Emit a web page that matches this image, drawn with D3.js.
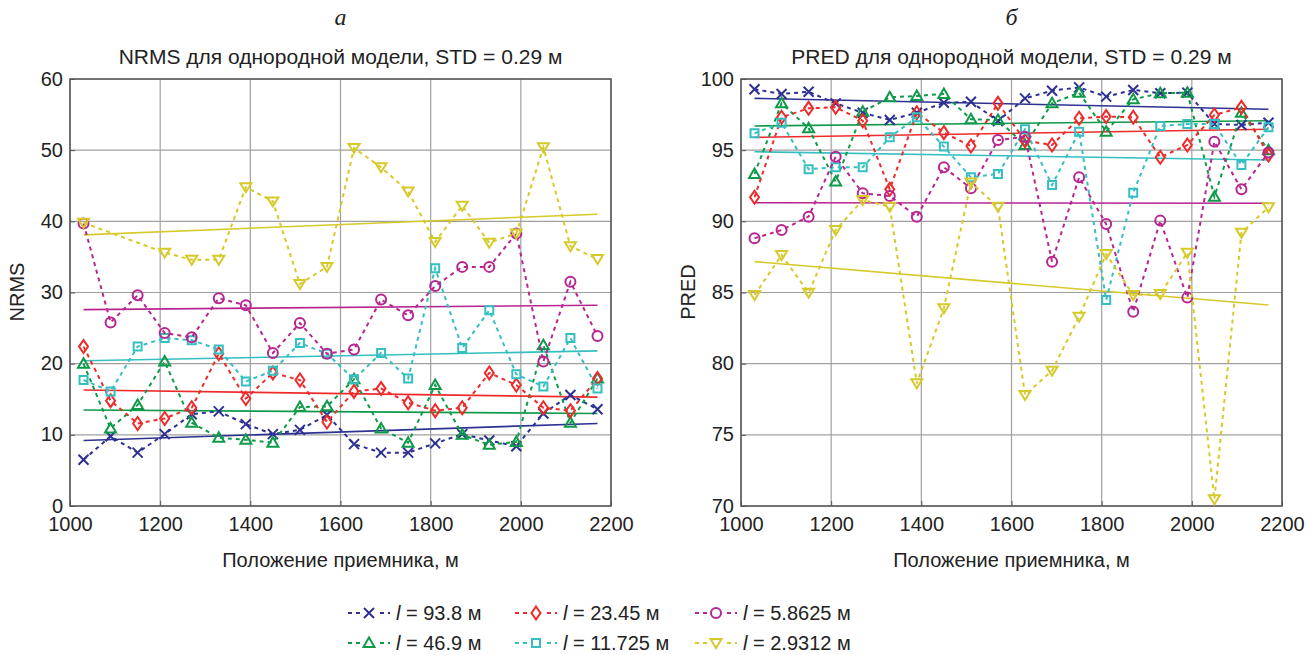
<!DOCTYPE html>
<html><head><meta charset="utf-8">
<script src="https://cdn.jsdelivr.net/npm/d3@7"></script>
<style>body{margin:0;background:#fff} svg{display:block}</style>
</head><body>
<svg id="c" width="1308" height="655"></svg>
<script>
// ---- data ----
const positions = [1030,1090,1150,1210,1270,1330,1390,1450,1510,1570,1630,1690,1750,1810,1870,1930,1990,2050,2110,2170];
const xTicks = [1000,1200,1400,1600,1800,2000,2200];
const nrmsTicks = [0,10,20,30,40,50,60];
const predTicks = [70,75,80,85,90,95,100];
const seriesLabels = ["93.8", "46.9", "23.45", "11.725", "5.8625", "2.9312"];

// NRMS (panel а)
const nrms_l93_8   = [6.5,9.8,7.5,10.1,12.9,13.3,11.5,10.1,10.7,12.8,8.7,7.5,7.5,8.8,10.1,9.2,8.4,13.0,15.6,13.6];
const nrms_l46_9   = [20.0,10.9,14.2,20.3,11.7,9.6,9.3,8.9,13.9,14.0,17.8,10.9,8.9,17.0,10.0,8.6,9.0,22.6,11.7,17.9];
const nrms_l23_45  = [22.4,14.8,11.6,12.3,13.8,21.4,15.1,18.7,17.7,11.8,16.1,16.5,14.5,13.4,13.8,18.7,17.0,13.8,13.4,17.9];
const nrms_l11_725 = [17.7,16.1,22.4,23.6,23.3,22.0,17.5,19.0,22.9,21.4,17.8,21.5,17.9,33.4,22.2,27.5,18.5,16.8,23.6,16.5];
const nrms_l5_8625 = [39.7,25.8,29.6,24.3,23.7,29.2,28.2,21.5,25.7,21.4,22.0,29.0,26.8,30.9,33.6,33.6,38.3,20.3,31.5,23.9];
const nrms_l2_9312 = [39.8,null,null,35.6,34.6,34.6,44.8,42.8,31.2,33.6,50.3,47.6,44.2,37.1,42.2,37.0,38.3,50.4,36.5,34.7];
// trend lines (value at first and last position)
const nrmsTrendStart = [9.2,13.5,16.3,20.4,27.6,38.1];
const nrmsTrendEnd   = [11.6,13.0,15.3,21.8,28.2,41.0];

// PRED (panel б)
const pred_l93_8   = [99.28,98.95,99.1,98.29,97.63,97.12,97.63,98.33,98.40,97.05,98.64,99.18,99.41,98.76,99.23,99.0,99.04,96.84,96.77,96.93];
const pred_l46_9   = [93.33,98.29,96.54,92.79,97.70,98.71,98.81,98.95,97.17,97.12,95.36,98.29,99.04,96.30,98.57,99.0,99.04,91.73,97.63,95.0];
const pred_l23_45  = [91.69,97.31,97.94,98.01,97.07,92.25,97.63,96.23,95.29,98.29,95.67,95.36,97.24,97.36,97.31,94.50,95.36,97.47,98.01,94.66];
const pred_l11_725 = [96.18,96.93,93.66,93.80,93.80,95.9,97.31,95.25,93.09,93.33,96.47,92.55,96.30,84.47,92.01,96.70,96.84,96.84,93.96,96.61];
const pred_l5_8625 = [88.81,89.39,90.33,94.54,91.97,91.78,90.33,93.80,92.32,95.71,95.95,87.16,93.09,89.81,83.65,90.05,84.64,95.60,92.25,94.83];
const pred_l2_9312 = [84.82,87.63,84.99,89.39,91.5,91.03,78.62,83.89,92.72,91.03,77.80,79.51,83.30,87.70,84.82,84.89,87.80,70.47,89.20,90.99];
const predTrendStart = [98.64,96.70,95.9,94.89,91.31,87.17];
const predTrendEnd   = [97.87,97.07,96.47,94.31,91.27,84.12];

// ---- styles ----
const colors  = ["#2e3192","#0f9a4a","#ee2b2b","#35bfc1","#b72690","#d6c92a"];
const markers = ["x","tri","diamond","square","circle","tridown"];
const FONT = "'Liberation Sans Narrow','Liberation Sans',Arial,sans-serif";

const svg = d3.select("#c");

function markerPath(type){
  switch(type){
    case "x": return "M-5,-5L5,5M-5,5L5,-5";
    case "tri": return "M0,-5.5L5.5,4L-5.5,4Z";
    case "tridown": return "M0,5L-5.5,-4L5.5,-4Z";
    case "diamond": return "M0,-6.5L4.5,0L0,6.5L-4.5,0Z";
    case "square": return "M-4,-4L4,-4L4,4L-4,4Z";
    case "circle": return "M5,0A5,5 0 1,1 -5,0A5,5 0 1,1 5,0Z";
  }
}

function drawPanel(opt){
  const x = d3.scaleLinear().domain([1000,2200]).range([opt.x0, opt.x1]);
  const y = d3.scaleLinear().domain(opt.ydomain).range([506, 79]);
  const g = svg.append("g");
  // grid
  g.selectAll(".gx").data(opt.xticks).join("line")
    .attr("x1",d=>x(d)).attr("x2",d=>x(d)).attr("y1",79).attr("y2",506)
    .attr("stroke","#a0a0a0").attr("stroke-width",1.2);
  g.selectAll(".gy").data(opt.yticks).join("line")
    .attr("y1",d=>y(d)).attr("y2",d=>y(d)).attr("x1",opt.x0).attr("x2",opt.x1)
    .attr("stroke","#a0a0a0").attr("stroke-width",1.2);
  // axes
  const ax = g.append("g").attr("transform",`translate(0,506)`)
    .call(d3.axisBottom(x).tickValues(opt.xticks).tickSize(-5).tickPadding(11).tickFormat(d3.format("d")));
  const ay = g.append("g").attr("transform",`translate(${opt.x0},0)`)
    .call(d3.axisLeft(y).tickValues(opt.yticks).tickSize(-5).tickPadding(7).tickFormat(d3.format("d")));
  [ax,ay].forEach(a=>{
    a.select(".domain").remove();
    a.selectAll(".tick line").attr("stroke","#555");
    a.selectAll("text").attr("font-family",FONT).attr("font-size",20).attr("fill","#222");
  });
  ay.selectAll("text").attr("dy","0.30em");
  // box
  g.append("rect").attr("x",opt.x0).attr("y",79).attr("width",opt.x1-opt.x0).attr("height",506-79)
    .attr("fill","none").attr("stroke","#555").attr("stroke-width",1.5);

  const pts = positions;
  opt.series.forEach((vals,i)=>{
    g.append("line")
      .attr("x1",x(pts[0])).attr("x2",x(pts[pts.length-1]))
      .attr("y1",y(opt.trendStart[i])).attr("y2",y(opt.trendEnd[i]))
      .attr("stroke",colors[i]).attr("stroke-width",1.6);
  });
  opt.series.forEach((vals,i)=>{
    const data = pts.map((p,k)=>({p, v: vals[k]})).filter(d=>d.v!==null);
    g.append("path").datum(data)
      .attr("d", d3.line().x(d=>x(d.p)).y(d=>y(d.v)))
      .attr("fill","none").attr("stroke",colors[i]).attr("stroke-width",2)
      .attr("stroke-dasharray","4,4");
    g.selectAll(null).data(data).join("path")
      .attr("transform",d=>`translate(${x(d.p)},${y(d.v)})`)
      .attr("d",markerPath(markers[i]))
      .attr("fill","none").attr("stroke",colors[i]).attr("stroke-width",2);
  });

  const cx = (opt.x0+opt.x1)/2;
  svg.append("text").attr("x",cx).attr("y",25).attr("text-anchor","middle")
    .attr("font-family","'Liberation Serif','Times New Roman',serif").attr("font-style","italic")
    .attr("font-size",24).attr("fill","#222").text(opt.letter);
  svg.append("text").attr("x",cx).attr("y",64).attr("text-anchor","middle")
    .attr("font-family",FONT).attr("font-size",21).attr("fill","#222").text(opt.title);
  svg.append("text").attr("x",cx).attr("y",567).attr("text-anchor","middle")
    .attr("font-family",FONT).attr("font-size",20).attr("fill","#222").text("Положение приемника, м");
  svg.append("text").attr("transform",`translate(${opt.x0-46},292) rotate(-90)`).attr("text-anchor","middle")
    .attr("font-family",FONT).attr("font-size",20).attr("fill","#222").text(opt.ylabel);
}

drawPanel({x0:70, x1:611, ydomain:[0,60], xticks:xTicks, yticks:nrmsTicks,
  series:[nrms_l93_8,nrms_l46_9,nrms_l23_45,nrms_l11_725,nrms_l5_8625,nrms_l2_9312],
  trendStart:nrmsTrendStart, trendEnd:nrmsTrendEnd,
  letter:"а", title:"NRMS для однородной модели, STD = 0.29 м", ylabel:"NRMS"});
drawPanel({x0:741, x1:1282, ydomain:[70,100], xticks:xTicks, yticks:predTicks,
  series:[pred_l93_8,pred_l46_9,pred_l23_45,pred_l11_725,pred_l5_8625,pred_l2_9312],
  trendStart:predTrendStart, trendEnd:predTrendEnd,
  letter:"б", title:"PRED для однородной модели, STD = 0.29 м", ylabel:"PRED"});

// legend: columns (93.8/46.9, 23.45/11.725, 5.8625/2.9312)
const legCols = [348, 515, 695];
const legRows = [613, 643];
seriesLabels.forEach((lab,i)=>{
  const col = Math.floor(i/2), row = i%2;
  const lx = legCols[col], ly = legRows[row];
  const g = svg.append("g");
  g.append("line").attr("x1",lx).attr("x2",lx+42).attr("y1",ly).attr("y2",ly)
    .attr("stroke",colors[i]).attr("stroke-width",2).attr("stroke-dasharray","4,4");
  g.append("rect").attr("x",lx+13).attr("y",ly-7).attr("width",16).attr("height",14).attr("fill","#fff");
  g.append("path").attr("transform",`translate(${lx+21},${ly})`).attr("d",markerPath(markers[i]))
    .attr("fill","none").attr("stroke",colors[i]).attr("stroke-width",2);
  const t = g.append("text").attr("x",lx+48).attr("y",ly+7)
    .attr("font-family",FONT).attr("font-size",20).attr("fill","#222");
  t.append("tspan").attr("font-style","italic").text("l");
  t.append("tspan").text(" = " + lab + " м");
});
</script>
</body></html>
